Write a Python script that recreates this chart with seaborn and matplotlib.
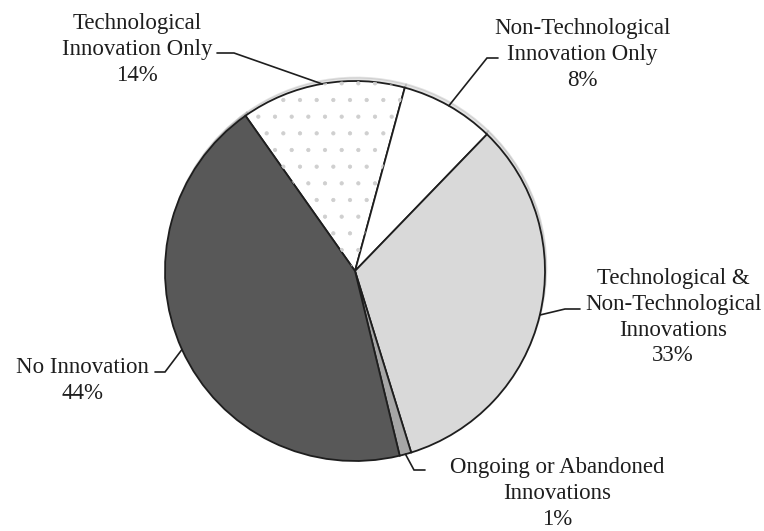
import matplotlib
matplotlib.use("Agg")
import matplotlib.pyplot as plt
import seaborn as sns
import numpy as np

# ---- data ----
categories = ["Technological\nInnovation Only",
              "Non-Technological\nInnovation Only",
              "Technological &\nNon-Technological\nInnovations",
              "Ongoing or Abandoned\nInnovations",
              "No Innovation"]
shares = [14, 8, 33, 1, 44]
slice_colors = ["#ffffff", "#ffffff", "#d9d9d9", "#a6a6a6", "#585858"]

sns.set_theme(style="white")
plt.rcParams["font.family"] = ["Liberation Serif", "DejaVu Serif"]
plt.rcParams["hatch.linewidth"] = 0.6

W, H = 764, 531
fig = plt.figure(figsize=(W / 100, H / 100), dpi=100)
ax = fig.add_axes([0, 0, 1, 1])

cx, cy, R = 355, 271, 190
# y axis is inverted below, so counterclockwise in data = clockwise on screen
wedges, _ = ax.pie(shares, colors=slice_colors, startangle=-125.2, counterclock=True,
                   center=(cx, cy), radius=R,
                   wedgeprops=dict(edgecolor="#1e1e1e", linewidth=1.3),
                   shadow=dict(ox=1.0, oy=-2.5, shade=0.5, alpha=0.22))

# dotted hatch overlay for "Technological Innovation Only"
hw, _ = ax.pie(shares, colors=["none"] * len(shares), startangle=-125.2, counterclock=True,
               center=(cx, cy), radius=R,
               wedgeprops=dict(linewidth=0, edgecolor="none"))
for i, w in enumerate(hw):
    if i == 0:
        w.set_hatch(".")
        w.set_edgecolor("#cfcfcf")
        w.set_linewidth(0)
    else:
        w.set_visible(False)

ax.set_xlim(0, W)
ax.set_ylim(H, 0)
ax.set_aspect("auto")
ax.axis("off")

# label layout: (text center x, text top y, elbow, stub end)
label_x = [137, 582, 673, 557, 82]
label_top = [13, 18, 268, 457, 357]
elbows = [(234, 53), (487, 58), (565, 309), (414, 470), (165, 372)]
stub_ends = [(217, 53), (498, 58), (580, 309), (425, 470), (155, 372)]

for i, w in enumerate(wedges):
    mid = np.deg2rad((w.theta1 + w.theta2) / 2)
    ax0 = w.center[0] + w.r * np.cos(mid)
    ay0 = w.center[1] + w.r * np.sin(mid)
    ex, ey = elbows[i]
    sx, sy = stub_ends[i]
    ax.plot([ax0, ex, sx], [ay0, ey, sy], color="#1e1e1e", lw=1.2,
            solid_joinstyle="miter", zorder=5)
    ax.text(label_x[i], label_top[i], f"{categories[i]}\n{shares[i]}%",
            ha="center", va="top", fontsize=16.5, linespacing=1.3,
            color="#1e1e1e", multialignment="center")

fig.savefig("out.png", dpi=100, facecolor="white")
